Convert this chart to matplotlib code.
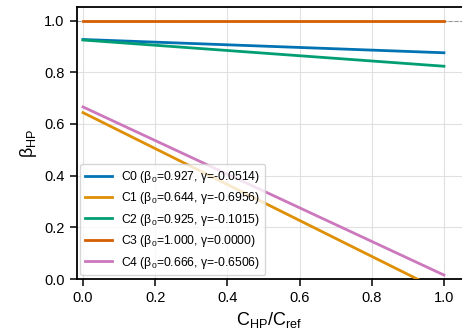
import matplotlib
matplotlib.use("Agg")
import matplotlib.pyplot as plt
import numpy as np

plt.rcParams['font.family'] = ['Liberation Sans', 'DejaVu Sans']
plt.rcParams['mathtext.default'] = 'regular'

names = ["C0", "C1", "C2", "C3", "C4"]
beta0 = [0.927, 0.644, 0.925, 1.000, 0.666]
gamma = [-0.0514, -0.6956, -0.1015, 0.0000, -0.6506]
colors = ["#0173b2", "#de8f05", "#029e73", "#d55e00", "#cc78bc"]
x = np.array([0.0, 1.0])

fig = plt.figure(figsize=(4.62, 3.36), dpi=100)
ax = fig.add_axes([0.1656, 0.1696, 0.8344, 0.809])

ax.axhline(1.0, color='#999999', ls='--', lw=0.8, zorder=1)
for n, b, g, c in zip(names, beta0, gamma, colors):
    ax.plot(x, b + g * x, color=c, lw=2.0, zorder=3,
            label=f"{n} (β$_0$={b:.3f}, γ={g:.4f})")

ax.set_xlim(-0.018, 1.05)
ax.set_ylim(0, 1.052)
ax.set_xticks([0, 0.2, 0.4, 0.6, 0.8, 1.0])
ax.set_yticks([0, 0.2, 0.4, 0.6, 0.8, 1.0])
ax.grid(True, color='#e0e0e0', lw=0.8)
ax.set_axisbelow(True)
for s in ['left', 'bottom', 'top']:
    ax.spines[s].set_linewidth(1.3)
ax.spines['right'].set_visible(False)
ax.tick_params(labelsize=10.5, width=1.1, length=5)
ax.set_xlabel("C$_{HP}$/C$_{ref}$", fontsize=13)
ax.set_ylabel("β$_{HP}$", fontsize=13)
ax.legend(loc='lower left', fontsize=8.7, frameon=True, borderaxespad=0.3,
          handlelength=2.2, labelspacing=0.45)

fig.savefig("out.png", dpi=100)
